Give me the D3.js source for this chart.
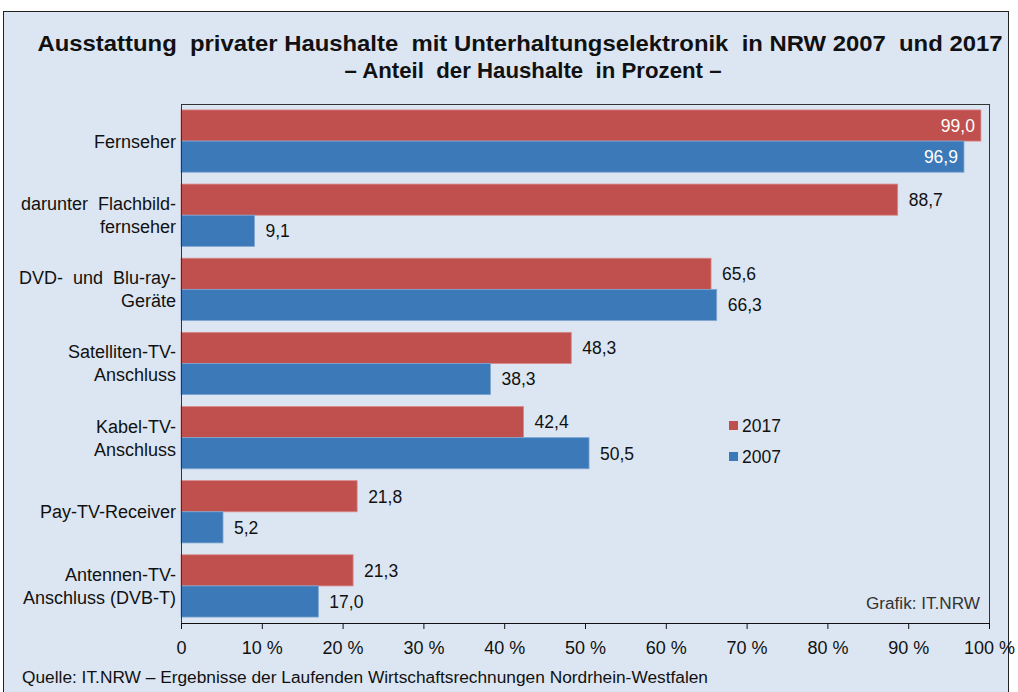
<!DOCTYPE html>
<html>
<head>
<meta charset="utf-8">
<script src="https://cdn.jsdelivr.net/npm/d3@7"></script>
<style>
  body { margin: 0; background: #fff; }
  svg text { font-family: "Liberation Sans", Arial, sans-serif; fill: #111; }
</style>
</head>
<body>
<svg id="chart" width="1018" height="692"></svg>
<script>
// data
const categories = [
  ['Fernseher'],
  ['darunter  Flachbild-', 'fernseher'],
  ['DVD-  und  Blu-ray-', 'Geräte'],
  ['Satelliten-TV-', 'Anschluss'],
  ['Kabel-TV-', 'Anschluss'],
  ['Pay-TV-Receiver'],
  ['Antennen-TV-', 'Anschluss (DVB-T)']
];
const values2017 = [99.0, 88.7, 65.6, 48.3, 42.4, 21.8, 21.3];
const values2007 = [96.9, 9.1, 66.3, 38.3, 50.5, 5.2, 17.0];
const seriesNames = ['2017', '2007'];
const tickValues = [0, 10, 20, 30, 40, 50, 60, 70, 80, 90, 100];

const colors = {'2017': '#C0504D', '2007': '#3C79B8'};
const margin = {top: 104, left: 181, right: 1018 - 989, bottom: 692 - 623};
const width = 1018 - margin.left - margin.right;
const height = 692 - margin.top - margin.bottom;

const svg = d3.select('#chart');

// outer frame
svg.append('rect')
    .attr('x', 3.5).attr('y', 11.5)
    .attr('width', 1005).attr('height', 700)
    .attr('fill', '#DCE6F2')
    .attr('stroke', '#222')
    .attr('stroke-width', 1);

// title
svg.append('text')
    .attr('x', 520).attr('y', 51)
    .attr('text-anchor', 'middle')
    .attr('font-size', 22).attr('font-weight', 'bold')
    .attr('textLength', 965).attr('lengthAdjust', 'spacingAndGlyphs')
    .style('white-space', 'pre')
    .text('Ausstattung  privater Haushalte  mit Unterhaltungselektronik  in NRW 2007  und 2017');
svg.append('text')
    .attr('x', 533).attr('y', 78)
    .attr('text-anchor', 'middle')
    .attr('font-size', 22).attr('font-weight', 'bold')
    .attr('textLength', 377).attr('lengthAdjust', 'spacingAndGlyphs')
    .style('white-space', 'pre')
    .text('– Anteil  der Haushalte  in Prozent –');

const g = svg.append('g')
    .attr('transform', 'translate(' + margin.left + ',' + margin.top + ')');

const xScale = d3.scaleLinear().domain([0, 100]).range([0, width]);
const yScale = d3.scaleBand()
    .domain(d3.range(categories.length))
    .range([0, height])
    .paddingInner(0.16)
    .paddingOuter(0.08);
const subScale = d3.scaleBand()
    .domain(seriesNames)
    .range([0, yScale.bandwidth()]);

const rows = categories.map((c, i) => ({
  idx: i,
  label: c,
  vals: [{key: '2017', v: values2017[i]}, {key: '2007', v: values2007[i]}]
}));

const groups = g.selectAll('g.cat')
    .data(rows)
  .enter().append('g')
    .attr('class', 'cat')
    .attr('transform', d => 'translate(0,' + yScale(d.idx) + ')');

groups.selectAll('rect')
    .data(d => d.vals)
  .enter().append('rect')
    .attr('x', 0)
    .attr('y', d => subScale(d.key))
    .attr('width', d => xScale(d.v))
    .attr('height', subScale.bandwidth())
    .attr('fill', d => colors[d.key])
    .attr('stroke', d => d.key === '2017' ? '#d98a88' : '#7fa6d2')
    .attr('stroke-width', 0.8);

const fmt = v => v.toFixed(1).replace('.', ',');

groups.selectAll('text.val')
    .data(d => d.vals)
  .enter().append('text')
    .attr('class', 'val')
    .attr('x', d => d.v > 90 ? xScale(d.v) - 6 : xScale(d.v) + 11)
    .attr('y', d => subScale(d.key) + subScale.bandwidth() / 2)
    .attr('dy', '0.36em')
    .attr('text-anchor', d => d.v > 90 ? 'end' : 'start')
    .attr('font-size', 17.5)
    .style('fill', d => d.v > 90 ? '#fff' : '#111')
    .text(d => fmt(d.v));

// category labels
groups.each(function(d) {
  const t = d3.select(this).append('text')
      .attr('text-anchor', 'end')
      .attr('font-size', 18)
      .style('white-space', 'pre');
  const mid = yScale.bandwidth() / 2;
  const n = d.label.length;
  d.label.forEach((line, k) => {
    t.append('tspan')
        .attr('x', -5)
        .attr('y', mid + (k - (n - 1) / 2) * 23)
        .attr('dy', '0.36em')
        .text(line);
  });
});

// plot frame
g.append('rect')
    .attr('x', 0.5).attr('y', 0.5)
    .attr('width', width).attr('height', height)
    .attr('fill', 'none')
    .attr('stroke', '#333')
    .attr('stroke-width', 1);

// x axis
const xAxis = d3.axisBottom(xScale)
    .tickValues(tickValues)
    .tickSize(6)
    .tickFormat(d => d === 0 ? '0' : d + ' %');
const domX = g.append('g')
    .attr('transform', 'translate(0,' + height + ')')
    .call(xAxis);
domX.select('.domain').attr('stroke', '#111');
domX.selectAll('.tick line').attr('stroke', '#111');
domX.selectAll('.tick text')
    .attr('y', 18)
    .attr('font-size', 18)
    .style('font-family', '"Liberation Sans", Arial, sans-serif')
    .style('fill', '#111');

// legend
const legend = svg.append('g').attr('transform', 'translate(729,426)');
seriesNames.forEach((s, i) => {
  legend.append('rect')
      .attr('x', 0).attr('y', i * 31 - 5)
      .attr('width', 9).attr('height', 9)
      .attr('fill', colors[s]);
  legend.append('text')
      .attr('x', 13).attr('y', i * 31)
      .attr('dy', '0.36em')
      .attr('font-size', 17.5)
      .text(s);
});

// credits
svg.append('text')
    .attr('x', 980).attr('y', 609)
    .attr('text-anchor', 'end')
    .attr('font-size', 16)
    .attr('textLength', 114).attr('lengthAdjust', 'spacingAndGlyphs')
    .style('fill', '#333')
    .text('Grafik: IT.NRW');
svg.append('text')
    .attr('x', 22).attr('y', 683)
    .attr('font-size', 16)
    .attr('textLength', 686).attr('lengthAdjust', 'spacingAndGlyphs')
    .text('Quelle: IT.NRW – Ergebnisse der Laufenden Wirtschaftsrechnungen Nordrhein-Westfalen');
</script>
</body>
</html>
